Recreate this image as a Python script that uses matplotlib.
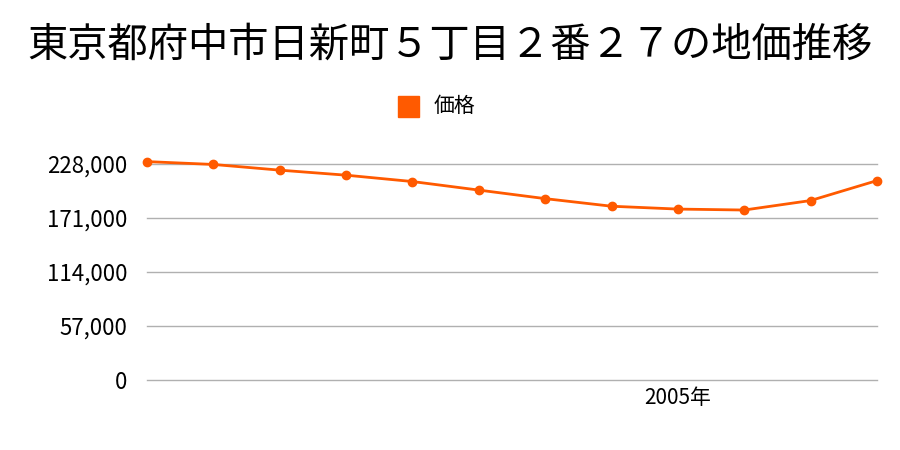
import matplotlib
matplotlib.use("Agg")
from matplotlib import pyplot as plt
from matplotlib.patches import Rectangle

plt.rcParams['font.family'] = ['Noto Sans CJK JP', 'DejaVu Sans']

# data
years = [1997, 1998, 1999, 2000, 2001, 2002, 2003, 2004, 2005, 2006, 2007, 2008]
prices = [230000, 227000, 221000, 215700, 209000, 200000,
          191000, 183000, 180000, 179000, 189000, 210000]
yticks = [0, 57000, 114000, 171000, 228000]
xtick_years = [2005]
title = "東京都府中市日新町５丁目２番２７の地価推移"
series_name = "価格"
color = "#ff5a00"

fig = plt.figure(figsize=(9, 4.5), dpi=100)
ax = fig.add_axes([147 / 900, 1 - 380 / 450, 730 / 900, 216.5 / 450])

ax.plot(years, prices, color=color, lw=2, marker='o', ms=6, clip_on=False, zorder=3)

ax.set_xlim(years[0], years[-1])
ax.set_ylim(0, yticks[-1])
ax.set_yticks(yticks)
ax.set_yticklabels([f"{v:,}" for v in yticks], fontsize=16)
ax.set_xticks(xtick_years)
ax.set_xticklabels([f"{y}年" for y in xtick_years], fontsize=15)
ax.tick_params(length=0, pad=14)
ax.tick_params(axis='x', pad=5)
ax.grid(axis='y', color='#b0b0b0', lw=1)
for gl in ax.get_ygridlines():
    gl.set_clip_on(False)
for s in ax.spines.values():
    s.set_visible(False)

fig.text(0.5, 1 - 45 / 450, title, ha='center', va='center', fontsize=29)
# legend
fig.patches.append(Rectangle((398 / 900, 1 - 117 / 450), 21 / 900, 21 / 450,
                             transform=fig.transFigure, color=color))
fig.text(434 / 900, 1 - 106 / 450, series_name, ha='left', va='center', fontsize=15)

fig.savefig("out.png", dpi=100)
